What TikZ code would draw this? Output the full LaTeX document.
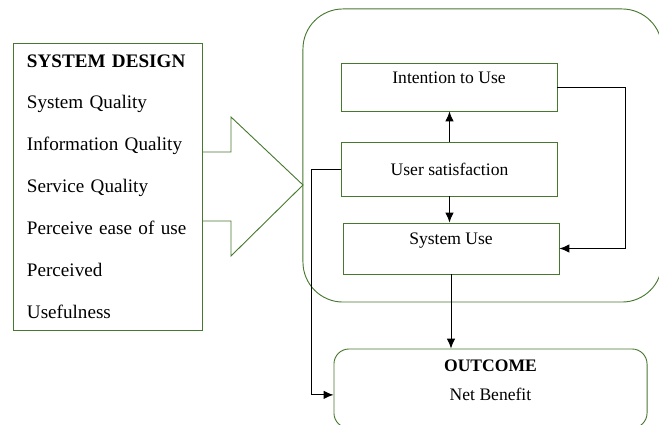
\documentclass[tikz,border=0pt]{standalone}
\usepackage{fontspec}
\setmainfont{Liberation Serif}
\usetikzlibrary{shapes,arrows.meta,positioning,calc}
\definecolor{greenbd}{RGB}{70,120,45}

\begin{document}
\begin{tikzpicture}[x=0.025cm, y=-0.025cm, font=\fontsize{12.5}{15}\selectfont,
    gbox/.style={draw=greenbd, line width=0.65pt},
    box/.style={gbox, minimum width=5.4cm, minimum height=1.2cm},
    toplabel/.style={anchor=north, inner sep=6.5pt},
    arr/.style={-{Latex[length=7pt,width=6pt]}, line width=0.7pt}]
            \useasboundingbox (0,0) rectangle (659,425);
            \clip (0,0) rectangle (659,425);
            \node[gbox, minimum width=4.725cm, minimum height=7.175cm, text width=4.025cm, inner xsep=0.35cm, align=left, font=\fontsize{13.6}{29.8}\selectfont] (sysdesign) at (107.5,186.5) {\textbf{SYSTEM DESIGN}\\System Quality\\Information Quality\\Service Quality\\Perceive ease of use\\Perceived\\Usefulness};
            \draw[gbox] (202,152) -- (231,152) -- (231,117) -- (303,185) -- (231,256) -- (231,221) -- (202,221);
            \node[gbox, rounded corners=1cm, minimum width=8.975cm, minimum height=7.325cm] (core) at (482.5,155.5) {};
            \node[box, label={[toplabel]north:Intention to Use}] (intent) at (449,87) {};
            \node[box, minimum height=1.35cm] (usat) at (449.5,169) {User satisfaction};
            \node[box, minimum height=1.275cm, label={[toplabel, inner sep=7pt]north:System Use}] (sysuse) at (451,248.5) {};
            \node[gbox, rounded corners=0.375cm, minimum width=7.825cm, minimum height=1.975cm, label={[toplabel, inner sep=8pt, align=center, font=\fontsize{12.5}{20.6}\selectfont]north:{\textbf{OUTCOME}\\Net Benefit}}] (outcome) at (490.5,388.5) {};

            \draw[arr] (usat.north) -- (usat.north |- intent.south);
            \draw[arr] (usat.south) -- (usat.south |- sysuse.north);
            \draw[arr] (intent.east) -- ++(68,0) |- (sysuse.east);
            \draw[arr] (usat.west) -- ++(-30,0) |- ([yshift=-0.16cm]outcome.west);
            \draw[arr] (sysuse.south) -- (sysuse.south |- outcome.north);
        \end{tikzpicture}
\end{document}
